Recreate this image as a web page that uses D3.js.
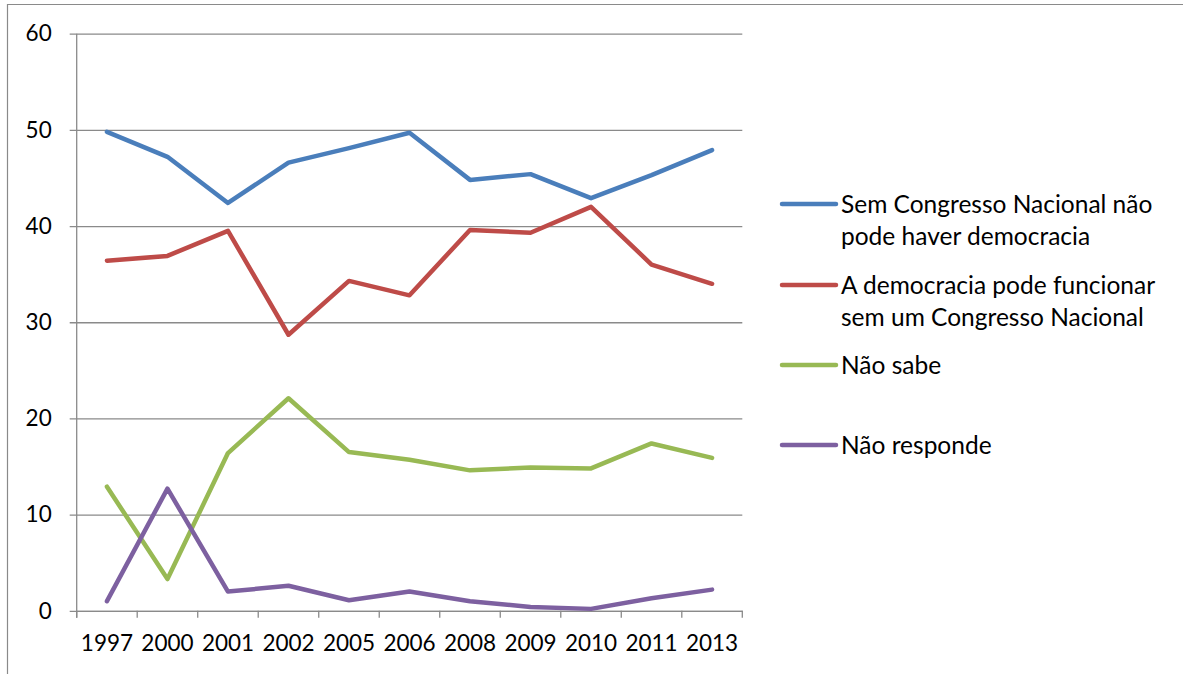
<!DOCTYPE html>
<html>
<head>
<meta charset="utf-8">
<script src="https://cdn.jsdelivr.net/npm/d3@7"></script>
<style>
  html, body { margin: 0; padding: 0; background: #fff; }
  svg { display: block; }
  text { font-family: Lato, "Open Sans", sans-serif; fill: #000; }
</style>
</head>
<body>
<svg id="chart" width="1183" height="674"></svg>
<script>
// Survey years (category axis)
const years = ["1997", "2000", "2001", "2002", "2005", "2006", "2008", "2009", "2010", "2011", "2013"];

// Series values (%)
const semCongresso = [49.8, 47.2, 42.4, 46.6, 48.1, 49.7, 44.8, 45.4, 42.9, 45.3, 47.9];
const democraciaSem = [36.4, 36.9, 39.5, 28.7, 34.3, 32.8, 39.6, 39.3, 42.0, 36.0, 34.0];
const naoSabe = [12.9, 3.3, 16.4, 22.1, 16.5, 15.7, 14.6, 14.9, 14.8, 17.4, 15.9];
const naoResponde = [1.0, 12.7, 2.0, 2.6, 1.1, 2.0, 1.0, 0.4, 0.2, 1.3, 2.2];

// Value axis ticks
const yTicks = [0, 10, 20, 30, 40, 50, 60];

const seriesNames = [
  ["Sem Congresso Nacional não", "pode haver democracia"],
  ["A democracia pode funcionar", "sem um Congresso Nacional"],
  ["Não sabe"],
  ["Não responde"]
];
const seriesValues = [semCongresso, democraciaSem, naoSabe, naoResponde];
const seriesColors = ["#4a7ebb", "#be4b48", "#98b954", "#7d60a0"];

const svg = d3.select("#chart");
const gridColor = "#8a8a8a";

// Outer frame of the chart area
svg.append("path")
  .attr("d", "M7.5,674 V4.5 H1183")
  .attr("fill", "none")
  .attr("stroke", gridColor)
  .attr("stroke-width", 1.2);

const plot = { left: 76.7, right: 742.3, top: 33.7, bottom: 610.8 };

const x = d3.scaleBand().domain(years).range([plot.left, plot.right]).padding(0);
const y = d3.scaleLinear().domain([0, 60]).range([plot.bottom, plot.top]);

// Horizontal gridlines with left tick marks and labels
const yAxis = svg.append("g")
  .attr("transform", `translate(${plot.left},0)`)
  .call(d3.axisLeft(y).tickValues(yTicks).tickSize(0).tickPadding(25));
yAxis.select(".domain").remove();
yAxis.selectAll(".tick line")
  .attr("x1", -7).attr("x2", plot.right - plot.left)
  .attr("stroke", gridColor).attr("stroke-width", 1.3);
yAxis.selectAll(".tick text")
  .attr("font-size", 22.5).attr("font-family", "Lato, sans-serif").attr("fill", "#000");

// Vertical value axis line
svg.append("line")
  .attr("x1", plot.left).attr("x2", plot.left)
  .attr("y1", plot.top).attr("y2", plot.bottom + 7)
  .attr("stroke", gridColor).attr("stroke-width", 1.3);

// Category axis: labels at band centers, tick marks at band edges
const xAxis = svg.append("g")
  .attr("transform", `translate(0,${plot.bottom})`)
  .call(d3.axisBottom(x).tickSize(0).tickPadding(24));
xAxis.select(".domain")
  .attr("stroke", gridColor).attr("stroke-width", 1.3);
xAxis.selectAll(".tick text")
  .attr("font-size", 22.5).attr("font-family", "Lato, sans-serif").attr("fill", "#000");

const edges = years.map(d => x(d)).concat([x.range()[1]]);
svg.append("g").selectAll("line")
  .data(edges)
  .join("line")
  .attr("x1", d => d).attr("x2", d => d)
  .attr("y1", plot.bottom).attr("y2", plot.bottom + 7)
  .attr("stroke", gridColor).attr("stroke-width", 1.3);

// Series lines
const line = d3.line()
  .x((d, i) => x(years[i]) + x.bandwidth() / 2)
  .y(d => y(d));

svg.append("g").selectAll("path")
  .data(seriesValues)
  .join("path")
  .attr("d", d => line(d))
  .attr("fill", "none")
  .attr("stroke", (d, i) => seriesColors[i])
  .attr("stroke-width", 4.5)
  .attr("stroke-linejoin", "round")
  .attr("stroke-linecap", "round");

// Legend
const legendY = [204, 285, 365, 445];
const legend = svg.append("g");
seriesNames.forEach((lines, i) => {
  const g = legend.append("g").attr("transform", `translate(0,${legendY[i]})`);
  g.append("line")
    .attr("x1", 782).attr("x2", 836)
    .attr("stroke", seriesColors[i]).attr("stroke-width", 4.5)
    .attr("stroke-linecap", "round");
  lines.forEach((t, j) => {
    g.append("text")
      .attr("x", 841).attr("y", j * 32.5)
      .attr("dy", "0.36em")
      .attr("font-size", 24.5)
      .text(t);
  });
});
</script>
</body>
</html>
